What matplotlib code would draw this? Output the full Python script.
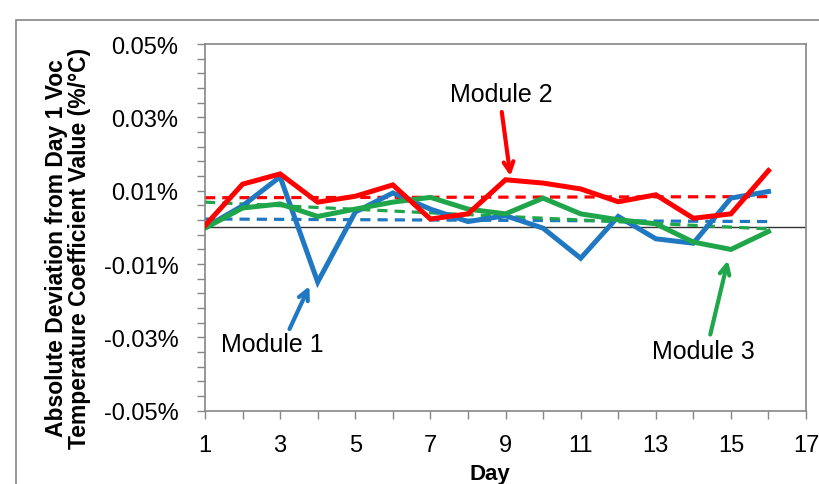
import matplotlib
matplotlib.use("Agg")
import matplotlib.pyplot as plt
from matplotlib.patches import Rectangle
from matplotlib.ticker import FixedLocator

plt.rcParams["font.family"] = ["Liberation Sans", "DejaVu Sans"]

BLUE = "#1f78c1"; RED = "#ff0000"; GREEN = "#1fa64a"; AXC = "#868686"

# deviation in %/°C, days 1..16
days = list(range(1, 17))
module1 = [0.000, 0.0059, 0.0138, -0.0149, 0.0042, 0.0094, 0.0050, 0.0016,
           0.0032, -0.0002, -0.0084, 0.0030, -0.0031, -0.0043, 0.0080, 0.0098]
module2 = [0.0005, 0.0118, 0.0146, 0.0069, 0.0085, 0.0116, 0.0023, 0.0037,
           0.0130, 0.0121, 0.0105, 0.0070, 0.0089, 0.0025, 0.0037, 0.0155]
module3 = [-0.0002, 0.0053, 0.0064, 0.0030, 0.0050, 0.0069, 0.0082, 0.0050,
           0.0037, 0.0080, 0.0037, 0.0021, 0.0010, -0.0040, -0.0060, -0.0011]

# trend line end values (day 1, day 16)
trend_days = [1, 16]
trend1 = [0.0023, 0.0016]
trend2 = [0.0081, 0.0084]
trend3 = [0.0069, -0.0004]

y_ticks = [-0.05, -0.03, -0.01, 0.01, 0.03, 0.05]
x_ticks = list(range(1, 18))

fig = plt.figure(figsize=(8.2, 4.85), dpi=100)
ax = fig.add_axes([0.25, 0.151, 0.733, 0.756])

# outer chart frame (only left/top visible in the crop)
fig.patches.append(Rectangle((16 / 820, -0.1), 1.2, 1 - 21 / 485 + 0.1,
                             transform=fig.transFigure, fill=False,
                             edgecolor=AXC, linewidth=1.2))

ax.axhline(0, color="#333333", linewidth=1.0, zorder=1)

for tr, c in [(trend1, BLUE), (trend3, GREEN), (trend2, RED)]:
    ax.plot(trend_days, tr, color=c, linewidth=2.3, dashes=(3.2, 2.2), zorder=2)

for vals, c in [(module1, BLUE), (module3, GREEN), (module2, RED)]:
    ax.plot(days, vals, color=c, linewidth=3.6, solid_joinstyle="miter", zorder=3)

ax.set_xlim(1, 17)
ax.set_ylim(-0.05, 0.05)
ax.set_xticks(x_ticks)
ax.set_xticklabels([str(d) if d % 2 == 1 else "" for d in x_ticks], fontsize=17)
ax.set_yticks(y_ticks)
ax.set_yticklabels([f"{v:.2f}%" for v in y_ticks], fontsize=17)
ax.yaxis.set_minor_locator(FixedLocator([-0.05 + 0.004 * i for i in range(26)]))
ax.tick_params(axis="both", direction="out", length=6, width=1, color=AXC)
ax.tick_params(axis="x", pad=11)
ax.tick_params(axis="y", which="both", direction="out", length=6, width=1,
               color=AXC, pad=13)
for s in ax.spines.values():
    s.set_color(AXC)
    s.set_linewidth(1.2)

fig.text(490 / 820, 1 - 475 / 485, "Day", fontsize=16, fontweight="bold",
         ha="center", va="center")
fig.text(68 / 820, 1 - 248 / 485,
         "Absolute Deviation from Day 1 Voc\nTemperature Coefficient Value (%/°C)",
         fontsize=16.5, fontweight="bold", rotation=90, ha="center", va="center",
         linespacing=1.0)

arrow_kw = dict(arrowstyle="->,head_length=0.7,head_width=0.35", linewidth=3,
                shrinkA=0, shrinkB=0)
ax.annotate("", xy=(9.13, 0.0140), xytext=(8.9, 0.0315),
            arrowprops=dict(color=RED, **arrow_kw))
ax.text(8.9, 0.0363, "Module 2", fontsize=18, ha="center", va="center")
ax.annotate("", xy=(3.78, -0.0160), xytext=(3.25, -0.0277),
            arrowprops=dict(color=BLUE, **arrow_kw))
ax.text(2.8, -0.0318, "Module 1", fontsize=18, ha="center", va="center")
ax.annotate("", xy=(14.92, -0.0090), xytext=(14.45, -0.0292),
            arrowprops=dict(color=GREEN, **arrow_kw))
ax.text(14.27, -0.0338, "Module 3", fontsize=18, ha="center", va="center")

fig.savefig("out.png", dpi=100, facecolor="white")
